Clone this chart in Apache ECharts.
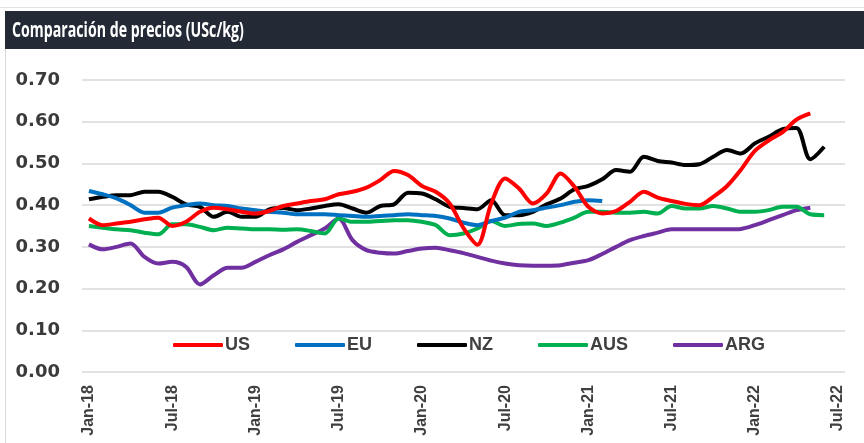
<!DOCTYPE html>
<html>
<head>
<meta charset="utf-8">
<script src="https://cdn.jsdelivr.net/npm/echarts@6/dist/echarts.min.js"></script>
<style>
html,body{margin:0;padding:0;background:#fff;}
#chart{width:864px;height:443px;}
</style>
</head>
<body>
<div id="chart"></div>
<script>
var titleText = 'Comparación de precios (USc/kg)';
var categories = [
 'Jan-18','Feb-18','Mar-18','Apr-18','May-18','Jun-18','Jul-18','Aug-18','Sep-18','Oct-18','Nov-18','Dec-18',
 'Jan-19','Feb-19','Mar-19','Apr-19','May-19','Jun-19','Jul-19','Aug-19','Sep-19','Oct-19','Nov-19','Dec-19',
 'Jan-20','Feb-20','Mar-20','Apr-20','May-20','Jun-20','Jul-20','Aug-20','Sep-20','Oct-20','Nov-20','Dec-20',
 'Jan-21','Feb-21','Mar-21','Apr-21','May-21','Jun-21','Jul-21','Aug-21','Sep-21','Oct-21','Nov-21','Dec-21',
 'Jan-22','Feb-22','Mar-22','Apr-22','May-22','Jun-22','Jul-22'
];
var yTicks = [0, 0.1, 0.2, 0.3, 0.4, 0.5, 0.6, 0.7];
var seriesNames = ['US', 'EU', 'NZ', 'AUS', 'ARG'];
var US = [0.368,0.352,0.356,0.360,0.366,0.370,0.350,0.360,0.384,0.394,0.390,0.384,
 0.380,0.386,0.398,0.404,0.410,0.414,0.426,0.432,0.442,0.460,0.482,0.472,
 0.446,0.432,0.404,0.345,0.305,0.404,0.464,0.440,0.404,0.428,0.476,0.444,
 0.396,0.380,0.386,0.408,0.432,0.418,0.410,0.403,0.400,0.420,0.446,0.485,
 0.530,0.555,0.575,0.605,0.620];
var EU = [0.434,0.426,0.416,0.400,0.382,0.382,0.394,0.400,0.404,0.400,0.398,0.392,
 0.388,0.384,0.382,0.378,0.378,0.378,0.376,0.374,0.372,0.374,0.376,0.378,
 0.376,0.374,0.368,0.358,0.352,0.362,0.370,0.384,0.388,0.394,0.400,0.408,
 0.412,0.410];
var NZ = [0.414,0.420,0.424,0.424,0.432,0.432,0.420,0.402,0.396,0.372,0.384,0.372,
 0.372,0.390,0.393,0.388,0.392,0.398,0.402,0.392,0.382,0.398,0.402,0.430,
 0.428,0.414,0.396,0.393,0.390,0.412,0.376,0.376,0.384,0.402,0.416,0.438,
 0.446,0.462,0.484,0.480,0.516,0.506,0.502,0.496,0.498,0.516,0.532,0.524,
 0.548,0.564,0.582,0.585,0.510,0.540];
var AUS = [0.350,0.346,0.342,0.340,0.334,0.330,0.354,0.354,0.348,0.340,0.346,0.344,
 0.342,0.342,0.341,0.342,0.338,0.332,0.368,0.360,0.360,0.362,0.364,0.364,
 0.360,0.352,0.328,0.332,0.344,0.362,0.350,0.355,0.356,0.350,0.358,0.370,
 0.384,0.384,0.382,0.382,0.384,0.380,0.398,0.392,0.392,0.398,0.392,0.384,
 0.384,0.388,0.396,0.396,0.378,0.376];
var ARG = [0.306,0.294,0.300,0.308,0.276,0.260,0.264,0.252,0.210,0.232,0.250,0.250,
 0.264,0.280,0.294,0.312,0.328,0.344,0.368,0.316,0.292,0.286,0.284,0.290,
 0.296,0.298,0.292,0.285,0.276,0.267,0.260,0.256,0.255,0.255,0.256,0.262,
 0.268,0.283,0.300,0.316,0.326,0.334,0.342,0.342,0.342,0.342,0.342,0.343,
 0.352,0.364,0.376,0.388,0.394];
var colors = ['#ff0000', '#0070c0', '#000000', '#00b050', '#7030a0'];

var chart = echarts.init(document.getElementById('chart'), null, {renderer: 'canvas'});
var dataList = [US, EU, NZ, AUS, ARG];
var series = seriesNames.map(function (n, i) {
  return {
    name: n,
    type: 'line',
    data: dataList[i],
    smooth: 0.3,
    symbol: 'none',
    lineStyle: {width: 4, color: colors[i]},
    itemStyle: {color: colors[i]},
    z: 5 - i
  };
});
chart.setOption({
  animation: false,
  backgroundColor: '#ffffff',
  grid: {left: 82, right: 19, top: 80, bottom: 71, containLabel: false},
  graphic: [
    {type: 'line', shape: {x1: 0, y1: 7.5, x2: 864, y2: 7.5}, style: {stroke: '#e3e3e3', lineWidth: 1}},
    {type: 'rect', shape: {x: 5, y: 11, width: 859, height: 38}, style: {fill: '#232a35'}},
    {type: 'line', shape: {x1: 5.5, y1: 49, x2: 5.5, y2: 443}, style: {stroke: '#d9d9d9', lineWidth: 1}},
    {type: 'text', x: 12, y: 31, scaleX: 0.645, scaleY: 1,
     style: {text: titleText, fill: '#ffffff', verticalAlign: 'middle', align: 'left',
             font: "bold 22px 'Open Sans', sans-serif"}}
  ],
  legend: {
    data: seriesNames,
    left: 168,
    top: 331,
    itemGap: 45,
    itemWidth: 50,
    itemHeight: 4,
    icon: 'roundRect',
    textStyle: {color: '#404040', fontSize: 18, fontWeight: 'bold', fontFamily: 'Liberation Sans', padding: [0, 0, 0, -3]}
  },
  xAxis: {
    type: 'category',
    data: categories,
    boundaryGap: true,
    axisLine: {show: false},
    axisTick: {show: false},
    axisLabel: {
      interval: 5,
      rotate: 90,
      margin: 13,
      color: '#404040',
      fontSize: 16,
      fontWeight: 'bold',
      fontFamily: 'Liberation Sans'
    },
    splitLine: {show: false}
  },
  yAxis: {
    type: 'value',
    min: 0,
    max: 0.7,
    interval: 0.1,
    axisLine: {show: false},
    axisTick: {show: false},
    axisLabel: {
      margin: 22,
      color: '#3a3a3a',
      fontSize: 18,
      fontWeight: 'bold',
      fontFamily: 'DejaVu Sans',
      formatter: function (v) { return v.toFixed(2); }
    },
    splitLine: {lineStyle: {color: '#d9d9d9', width: 1.5}}
  },
  series: series
});
</script>
</body>
</html>
